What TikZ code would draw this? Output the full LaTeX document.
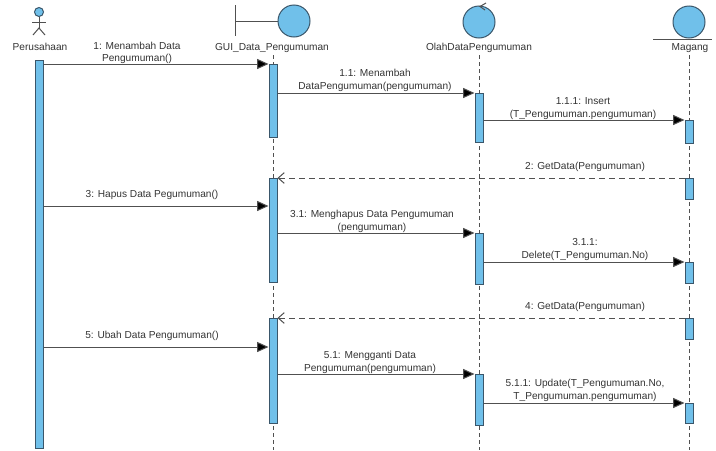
\documentclass[tikz,border=0pt]{standalone}
\usepackage{fontspec}
\setmainfont{Liberation Sans}
\usetikzlibrary{arrows.meta}

\definecolor{barblue}{RGB}{112,192,234}
\definecolor{bardraw}{RGB}{58,86,106}
\definecolor{msggray}{RGB}{80,80,80}

\tikzset{every picture/.style={line width=0.75pt}}
\tikzset{
  bar/.style={draw=bardraw, fill=barblue, minimum width=6pt, inner sep=0pt, anchor=north},
  lifeline/.style={draw=msggray, dash pattern={on 3pt off 2.25pt}, line width=0.6pt},
  msg/.style={draw=msggray, -{Triangle[length=8.5pt,width=7.5pt,fill=black]}},
  reply/.style={draw=msggray, dash pattern={on 4.5pt off 3pt}, -{Straight Barb[length=4.5pt,width=8pt]}},
  lbl/.style={font=\fontsize{7.6}{9.6}\selectfont, text=black!80, align=center, inner sep=0pt, anchor=south},
  head/.style={font=\fontsize{7.6}{9.6}\selectfont, text=black!80, inner sep=0.75pt},
  icon/.style={draw=bardraw, fill=barblue}
}

\begin{document}
\begin{tikzpicture}[x=0.75pt,y=0.75pt,yscale=-1,xscale=1]
\useasboundingbox (0,0) rectangle (716,450);

%Shape: Actor
\draw [icon] (39,12) circle (4.5) ;
\draw [draw=msggray] (39,16.5) -- (39,28) ;
\draw [draw=msggray] (32,22) -- (46,22) ;
\draw [draw=msggray] (33,35) -- (39,28) -- (45,35) ;
%Shape: Boundary
\draw [draw=msggray] (235,5) -- (235,36) ;
\draw [draw=msggray] (235,21) -- (278,21) ;
\draw [icon] (294,21) circle (16) ;
%Shape: Control
\draw [icon] (479,22) circle (16) ;
\draw [draw=msggray] (486,3) -- (480,6.5) -- (485,10) ;
%Shape: Entity
\draw [icon] (689,22) circle (16) ;
\draw [draw=msggray] (653,39) -- (712,39) ;

% Text Node
\node [head] (perusahaan) at (40,47) {Perusahaan};
\node [head] (gui) at (272,48) {GUI\_Data\_Pengumuman};
\node [head] (olah) at (479,48) {OlahDataPengumuman};
\node [head] (magang) at (690,48) {Magang};

%Straight Lines: lifelines
\draw [lifeline] (273,55) -- (273,450) ;
\draw [lifeline] (479,55) -- (479,450) ;
\draw [lifeline] (689,55) -- (689,450) ;

%Shape: Rectangle: activations
\node [bar, minimum height=291pt] (pbar) at (39,60) {};
\node [bar, minimum height=54.75pt] (g1) at (273,64) {};
\node [bar, minimum height=78pt] (g2) at (273,178) {};
\node [bar, minimum height=78.75pt] (g3) at (273,318) {};
\node [bar, minimum height=36.75pt] (o1) at (479,93) {};
\node [bar, minimum height=38.25pt] (o2) at (479,233) {};
\node [bar, minimum height=38.25pt] (o3) at (479,374) {};
\node [bar, minimum height=17.25pt] (m1) at (689,120) {};
\node [bar, minimum height=15.75pt] (m2) at (689,178) {};
\node [bar, minimum height=15.75pt] (m3) at (689,262) {};
\node [bar, minimum height=15.75pt] (m4) at (689,318) {};
\node [bar, minimum height=15pt] (m5) at (689,403) {};

\coordinate (c3) at (273,206) ;
\coordinate (c5) at (273,347) ;

%Straight Lines: messages
\draw [msg] (pbar.east |- g1.north) -- (g1.north west) ;
\draw [msg] (g1.east |- o1.north) -- (o1.north west) ;
\draw [msg] (o1.east |- m1.north) -- (m1.north west) ;
\draw [reply] (m2.north west) -- (g2.north east) ;
\draw [msg] (pbar.east |- c3) -- (g2.west |- c3) ;
\draw [msg] (g2.east |- o2.north) -- (o2.north west) ;
\draw [msg] (o2.east |- m3.north) -- (m3.north west) ;
\draw [reply] (m4.north west) -- (g3.north east) ;
\draw [msg] (pbar.east |- c5) -- (g3.west |- c5) ;
\draw [msg] (g3.east |- o3.north) -- (o3.north west) ;
\draw [msg] (o3.east |- m5.north) -- (m5.north west) ;

% Text Node: message labels
\node [lbl] (l1) at (137,64.5) {1: Menambah Data\\Pengumuman()};
\node [lbl] (l11) at (375,92) {1.1: Menambah\\DataPengumuman(pengumuman)};
\node [lbl] (l111) at (583,120) {1.1.1: Insert\\(T\_Pengumuman.pengumuman)};
\node [lbl] (l2) at (585,172) {2: GetData(Pengumuman)};
\node [lbl] (l3) at (152,200) {3: Hapus Data Pegumuman()};
\node [lbl] (l31) at (372,233) {3.1: Menghapus Data Pengumuman\\(pengumuman)};
\node [lbl] (l311) at (585,261) {3.1.1:\\Delete(T\_Pengumuman.No)};
\node [lbl] (l4) at (585,312) {4: GetData(Pengumuman)};
\node [lbl] (l5) at (152,341) {5: Ubah Data Pengumuman()};
\node [lbl] (l51) at (370,374) {5.1: Mengganti Data\\Pengumuman(pengumuman)};
\node [lbl] (l511) at (585,402) {5.1.1: Update(T\_Pengumuman.No,\\T\_Pengumuman.pengumuman)};

\end{tikzpicture}
\end{document}
